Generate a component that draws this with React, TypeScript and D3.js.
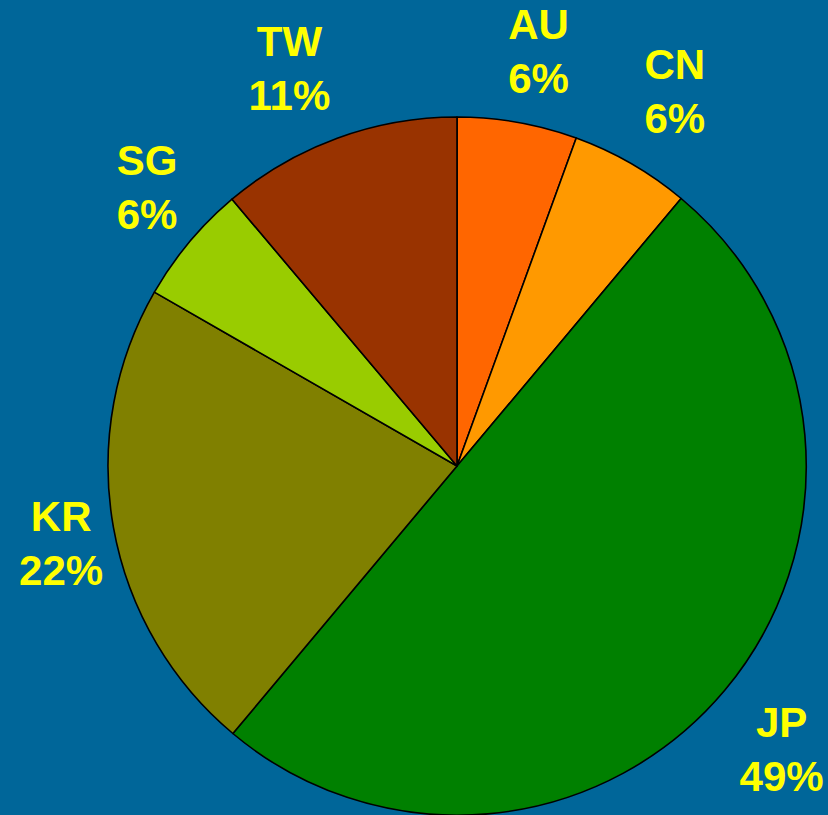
import React from "react";
import * as d3 from "d3";

const categories = ["AU", "CN", "JP", "KR", "SG", "TW"];
const shares = [5.55, 5.55, 50.0, 22.2, 5.55, 11.15];
const percentLabels = ["6%", "6%", "49%", "22%", "6%", "11%"];
const colors = ["#FF6600", "#FF9900", "#008000", "#808000", "#99CC00", "#993300"];

// layout: small nudges of each label block from its radial anchor
const labelNudge: [number, number][] = [
  [7, 8.5],
  [3, -2.6],
  [-5, 6.6],
  [27.5, 1.3],
  [20, -3.6],
  [-20, 6],
];

const W = 828;
const H = 815;
const CX = 457;
const CY = 466;
const R = 349;
const LABEL_R = 430;

export default function App() {
  const pie = d3.pie<number>().sort(null).value((d) => d)(shares);
  const arc = d3.arc<d3.PieArcDatum<number>>().innerRadius(0).outerRadius(R);
  return (
    <svg width={W} height={H} style={{ position: "absolute", left: 0, top: 0, display: "block" }}>
      <rect x={0} y={0} width={W} height={H} fill="#006699" />
      <g transform={`translate(${CX},${CY})`}>
        {pie.map((p, i) => (
          <path key={categories[i]} d={arc(p) || ""} fill={colors[i]} stroke="#000" strokeWidth={1.6} strokeLinejoin="round" />
        ))}
        {pie.map((p, i) => {
          const mid = (p.startAngle + p.endAngle) / 2;
          const x = Math.sin(mid) * LABEL_R + labelNudge[i][0];
          const y = -Math.cos(mid) * LABEL_R + labelNudge[i][1];
          return (
            <text key={"l" + i} textAnchor="middle" fill="#FFFF00" fontFamily="'Liberation Sans', Arial, sans-serif" fontWeight="bold" fontSize={42}>
              <tspan x={x} y={y - 12}>{categories[i]}</tspan>
              <tspan x={x} y={y + 42}>{percentLabels[i]}</tspan>
            </text>
          );
        })}
      </g>
    </svg>
  );
}
